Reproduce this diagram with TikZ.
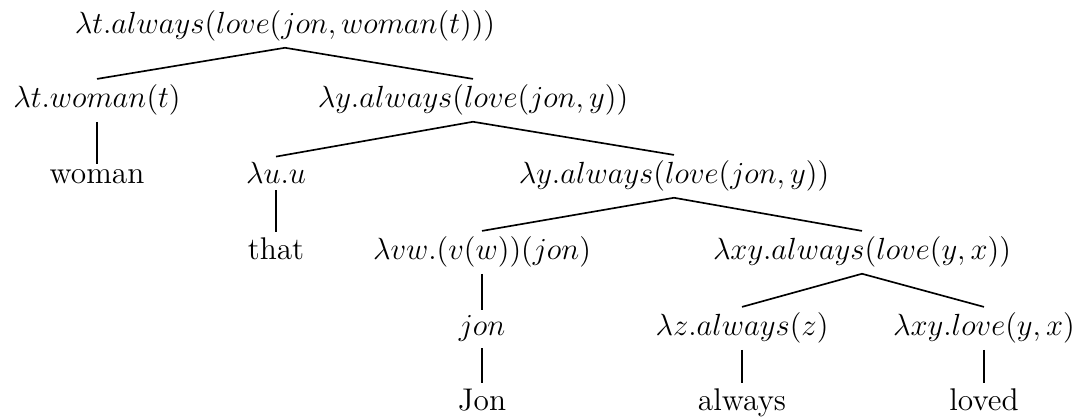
\documentclass[tikz,border=0pt]{standalone}
\begin{document}
\begin{tikzpicture}[x=0.392pt, y=-0.392pt,
  lbl/.style={font=\fontsize{12.3}{14}\selectfont, inner sep=2.2pt, anchor=base},
  edge/.style={draw=black, line width=0.65pt}]
\useasboundingbox (0,0) rectangle (1082,419);
\node[lbl] (r) at (285,34) {$\lambda t.always(love(jon, woman(t)))$};
\node[lbl] (a) at (97,108) {$\lambda t.woman(t)$};
\node[lbl] (b) at (473,108) {$\lambda y.always(love(jon, y))$};
\node[lbl] (aa) at (97,184) {woman};
\node[lbl] (ba) at (276,184) {$\lambda u.u$};
\node[lbl] (bb) at (674,184) {$\lambda y.always(love(jon, y))$};
\node[lbl] (baa) at (276,260) {that};
\node[lbl] (bba) at (482,260) {$\lambda vw.(v(w))(jon)$};
\node[lbl] (bbb) at (862,260) {$\lambda xy.always(love(y, x))$};
\node[lbl] (bbaa) at (482,336) {$jon$};
\node[lbl] (bbba) at (742,336) {$\lambda z.always(z)$};
\node[lbl] (bbbb) at (984,336) {$\lambda xy.love(y, x)$};
\node[lbl] (jon) at (482,411) {Jon};
\node[lbl] (alw) at (742,411) {always};
\node[lbl] (lov) at (984,411) {loved};
\draw[edge] (r.south) -- (a.north);
\draw[edge] (r.south) -- (b.north);
\draw[edge] (a.south) -- (aa.north);
\draw[edge] (b.south) -- (ba.north);
\draw[edge] (b.south) -- (bb.north);
\draw[edge] (ba.south) -- (baa.north);
\draw[edge] (bb.south) -- (bba.north);
\draw[edge] (bb.south) -- (bbb.north);
\draw[edge] (bba.south) -- (bbaa.north);
\draw[edge] (bbb.south) -- (bbba.north);
\draw[edge] (bbb.south) -- (bbbb.north);
\draw[edge] (bbaa.south) -- (jon.north);
\draw[edge] (bbba.south) -- (alw.north);
\draw[edge] (bbbb.south) -- (lov.north);
\end{tikzpicture}
\end{document}
